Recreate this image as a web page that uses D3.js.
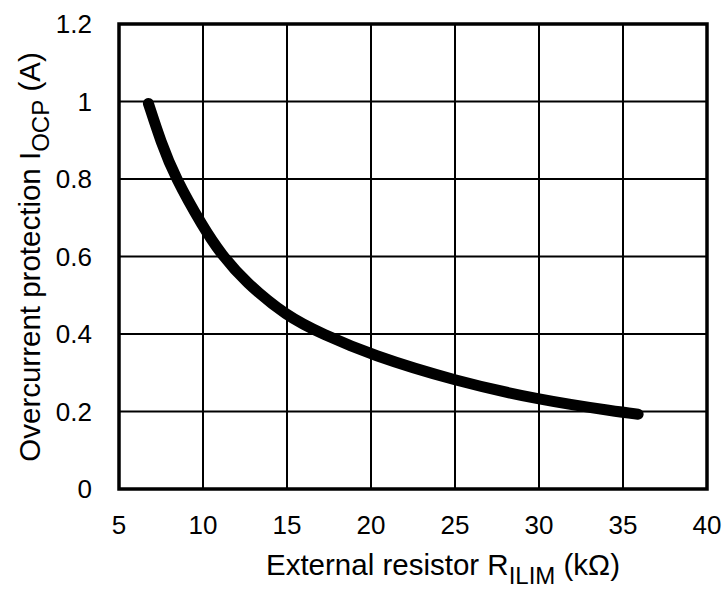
<!DOCTYPE html>
<html>
<head>
<meta charset="utf-8">
<script src="https://cdn.jsdelivr.net/npm/d3@7"></script>
<style>
  body { margin: 0; background: #fff; }
  text { font-family: "Liberation Sans", Arial, sans-serif; fill: #000; }
</style>
</head>
<body>
<div id="chart"></div>
<script>
var w = 723, h = 590;
var pad = {top: 24, bottom: 101, left: 119, right: 16};

// Values
var resistance = [6.75, 7.5, 8.33, 10, 11.1, 12.5, 15, 17.1, 20, 25, 30, 34.6, 35.9];
var current    = [0.995, 0.895, 0.805, 0.676, 0.605, 0.535, 0.445, 0.4, 0.346, 0.279, 0.230, 0.2, 0.193];
var xTicks = [5, 10, 15, 20, 25, 30, 35, 40];
var yTicks = [0, 0.2, 0.4, 0.6, 0.8, 1, 1.2];

var svg = d3.select("#chart")
            .append("svg")
            .attr("width", w)
            .attr("height", h);

var xScale = d3.scaleLinear()
               .domain([5, 40])
               .range([pad.left, w - pad.right]);
var yScale = d3.scaleLinear()
               .domain([0, 1.2])
               .range([h - pad.bottom, pad.top]);

//Grid lines
svg.append("g")
   .selectAll("line")
   .data(xTicks)
   .enter()
   .append("line")
   .attr("x1", function(d) {return xScale(d);})
   .attr("x2", function(d) {return xScale(d);})
   .attr("y1", pad.top)
   .attr("y2", h - pad.bottom)
   .style("stroke", "#000")
   .style("stroke-width", 2);
svg.append("g")
   .selectAll("line")
   .data(yTicks)
   .enter()
   .append("line")
   .attr("y1", function(d) {return yScale(d);})
   .attr("y2", function(d) {return yScale(d);})
   .attr("x1", pad.left)
   .attr("x2", w - pad.right)
   .style("stroke", "#000")
   .style("stroke-width", 2);

//Plot border
svg.append("rect")
   .attr("x", pad.left)
   .attr("y", pad.top)
   .attr("width", w - pad.left - pad.right)
   .attr("height", h - pad.top - pad.bottom)
   .style("fill", "none")
   .style("stroke", "#000")
   .style("stroke-width", 3.5);

//Tick labels
svg.append("g")
   .selectAll("text")
   .data(xTicks)
   .enter()
   .append("text")
   .attr("x", function(d) {return xScale(d);})
   .attr("y", h - pad.bottom + 45)
   .attr("text-anchor", "middle")
   .style("font-size", "26px")
   .text(function(d) {return d;});
svg.append("g")
   .selectAll("text")
   .data(yTicks)
   .enter()
   .append("text")
   .attr("x", pad.left - 27)
   .attr("y", function(d) {return yScale(d);})
   .attr("dy", "0.35em")
   .attr("text-anchor", "end")
   .style("font-size", "26px")
   .text(function(d) {return d;});

//Curve
var line = d3.line()
             .x(function(d, i) {return xScale(resistance[i]);})
             .y(function(d) {return yScale(d);})
             .curve(d3.curveBasis);
svg.append("path")
   .datum(current)
   .attr("d", line)
   .style("fill", "none")
   .style("stroke", "#000")
   .style("stroke-width", 11)
   .style("stroke-linecap", "round")
   .style("stroke-linejoin", "round");

//Axis titles
var xTitle = svg.append("text")
                .attr("x", 443)
                .attr("y", 575)
                .attr("text-anchor", "middle")
                .style("font-size", "29.5px");
xTitle.append("tspan").text("External resistor R");
xTitle.append("tspan").attr("dy", 9).style("font-size", "24px").text("ILIM");
xTitle.append("tspan").attr("dy", -9).text(" (kΩ)");

var yTitle = svg.append("text")
                .attr("transform", "translate(40,257) rotate(-90)")
                .attr("text-anchor", "middle")
                .style("font-size", "29.5px");
yTitle.append("tspan").text("Overcurrent protection I");
yTitle.append("tspan").attr("dy", 9).style("font-size", "24px").text("OCP");
yTitle.append("tspan").attr("dy", -9).text(" (A)");
</script>
</body>
</html>
